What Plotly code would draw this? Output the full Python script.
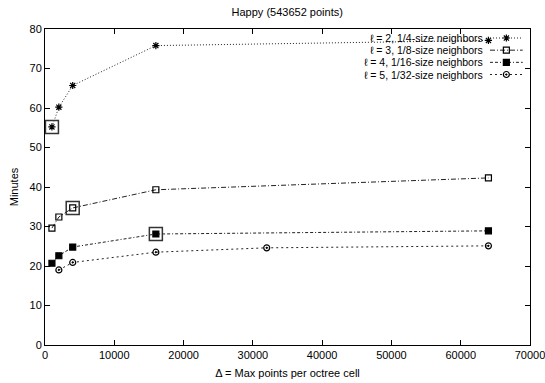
import plotly.graph_objects as go

title = "Happy (543652 points)"
x_label = "Δ = Max points per octree cell"
y_label = "Minutes"

names = ["ℓ = 2, 1/4-size neighbors", "ℓ = 3, 1/8-size neighbors",
         "ℓ = 4, 1/16-size neighbors", "ℓ = 5, 1/32-size neighbors"]

x_l2 = [1000, 2000, 4000, 16000, 64000]
y_l2 = [55.2, 60.2, 65.7, 75.8, 77.1]
x_l3 = [1000, 2000, 4000, 16000, 64000]
y_l3 = [29.6, 32.4, 34.7, 39.3, 42.3]
x_l4 = [1000, 2000, 4000, 16000, 64000]
y_l4 = [20.7, 22.6, 24.8, 28.1, 28.9]
x_l5 = [2000, 4000, 16000, 32000, 64000]
y_l5 = [19.0, 20.9, 23.5, 24.6, 25.1]

best_x = [1000, 4000, 16000]
best_y = [55.2, 34.7, 28.1]

x_ticks = [0, 10000, 20000, 30000, 40000, 50000, 60000, 70000]
y_ticks = [0, 10, 20, 30, 40, 50, 60, 70, 80]

xs = [x_l2, x_l3, x_l4, x_l5]
ys = [y_l2, y_l3, y_l4, y_l5]
dashes = ["1px,2px", "5px,2px,1px,2px", "3px,2px,3px,2px,1px,2px", "2px,3px"]
symbols = ["asterisk-open", "square-open", "square", "circle-open-dot"]
sizes = [6, 6, 6, 6]

font = "Liberation Sans, Arial, sans-serif"
fig = go.Figure()
for xv, yv, nm, d, s, sz in zip(xs, ys, names, dashes, symbols, sizes):
    fig.add_trace(go.Scatter(
        x=xv, y=yv, name=nm, mode="lines+markers", showlegend=False,
        line=dict(color="#222222", width=1, dash=d),
        marker=dict(symbol=s, size=sz, color="black",
                    line=dict(color="black", width=1.2)),
    ))

fig.add_trace(go.Scatter(
    x=best_x, y=best_y, mode="markers", showlegend=False,
    marker=dict(symbol="square-open", size=13, color="#333333",
                line=dict(color="#333333", width=1.5)),
    hoverinfo="skip",
))

# gnuplot-style key: text right-aligned, then line sample with marker (overlay axes in plot-fraction units)
key_top = 0.9715
key_step = 0.0385
key_text_x = 0.905
key_line = (0.9175, 0.985)
for i, (nm, d, s, sz) in enumerate(zip(names, dashes, symbols, sizes)):
    ky = key_top - i * key_step
    fig.add_trace(go.Scatter(
        x=[key_line[0], key_line[1]], y=[ky, ky], mode="lines",
        xaxis="x2", yaxis="y2", showlegend=False, hoverinfo="skip",
        line=dict(color="#222222", width=1, dash=d),
    ))
    fig.add_trace(go.Scatter(
        x=[(key_line[0] + key_line[1]) / 2], y=[ky], mode="markers",
        xaxis="x2", yaxis="y2", showlegend=False, hoverinfo="skip",
        marker=dict(symbol=s, size=sz, color="black",
                    line=dict(color="black", width=1.2)),
    ))
    fig.add_annotation(
        x=key_text_x, y=ky, xref="x2", yref="y2", text=nm,
        showarrow=False, xanchor="right", yanchor="middle", borderpad=0,
        font=dict(family=font, size=10.5, color="black"),
    )

fig.update_layout(
    width=545, height=383,
    margin=dict(l=45, r=15, t=29, b=38, autoexpand=False),
    paper_bgcolor="white", plot_bgcolor="white",
    font=dict(family=font, size=11, color="black"),
    title=dict(text=title, x=0.527, xanchor="center", y=0.968, yanchor="middle",
               font=dict(family=font, size=11, color="black")),
    showlegend=False,
    xaxis2=dict(overlaying="x", range=[0, 1], visible=False, fixedrange=True),
    yaxis2=dict(overlaying="y", range=[0, 1], visible=False, fixedrange=True),
)
fig.update_layout(xaxis=dict(
    range=[0, 70000], tickvals=x_ticks, ticktext=[str(v) for v in x_ticks],
    ticklabeloverflow="allow", automargin=False,
    showgrid=False, zeroline=False,
    showline=True, linecolor="black", linewidth=1, mirror="ticks",
    ticks="inside", ticklen=5, tickcolor="black",
    title=dict(text=x_label, standoff=9, font=dict(size=11)),
))
fig.update_layout(yaxis=dict(
    range=[0, 80], tickvals=y_ticks, ticktext=[str(v) for v in y_ticks],
    automargin=False,
    showgrid=False, zeroline=False,
    showline=True, linecolor="black", linewidth=1, mirror="ticks",
    ticks="inside", ticklen=5, tickcolor="black",
    title=dict(text=y_label, standoff=8, font=dict(size=11)),
))

fig.write_html("out.html")
